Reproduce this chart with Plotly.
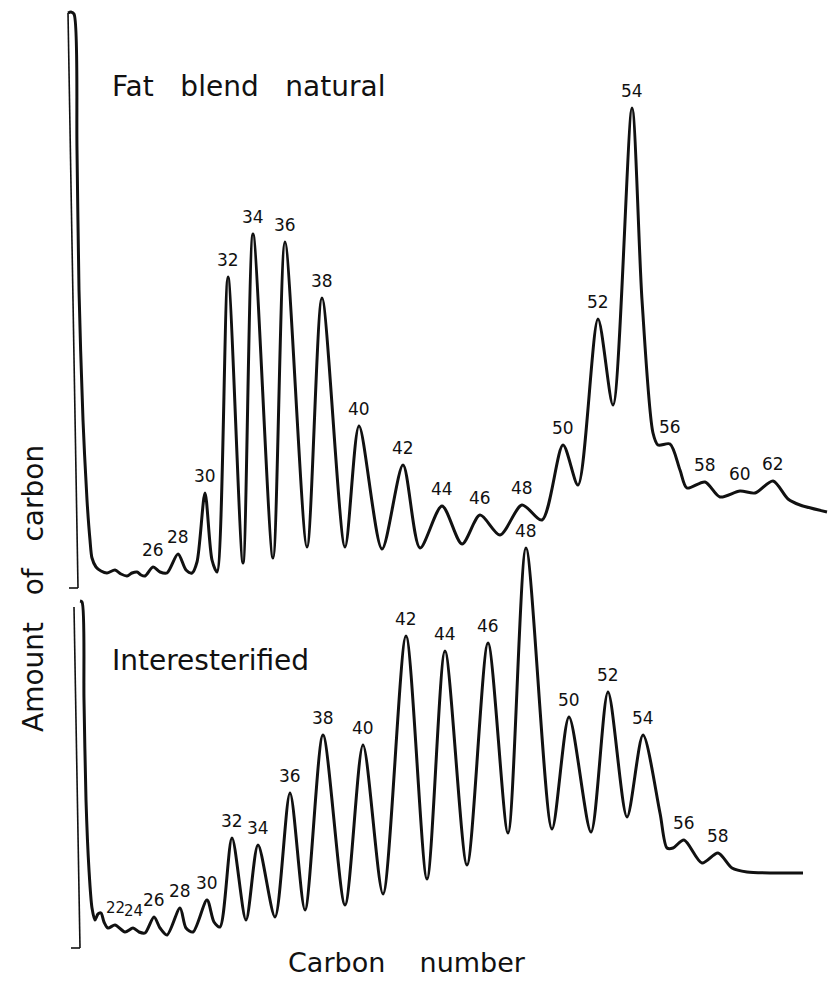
import plotly.graph_objects as go

# ---------------------------------------------------------------
# Triglyceride GC profiles by carbon number (detector response, a.u.)
# retention values share one axis; responses are measured from each
# trace's own baseline
# ---------------------------------------------------------------

# Fat blend, natural: labelled peaks
nat_carbon = [26, 28, 30, 32, 34, 36, 38, 40, 42, 44, 46, 48, 50, 52, 54, 56, 58, 60, 62]
nat_peak_ret = [153, 178, 205, 228, 253, 285, 322, 359, 403, 442, 480, 522, 563, 598, 632, 670, 705, 740, 773]
nat_peak_resp = [21, 34, 95, 311, 354, 346, 290, 162, 123, 82, 73, 83, 143, 269, 480, 144, 106, 97, 107]

# Fat blend, natural: solvent front, valleys and flanks
nat_ret = [68, 71, 74, 77, 79, 83, 87, 90, 92, 96, 101, 107, 115, 121, 127, 132, 137, 141, 145,
           160, 167, 186, 192, 197, 212, 217, 243, 273, 307, 345, 382, 420, 462, 500, 542,
           578, 613, 642, 653, 658, 680, 687, 720, 755, 788, 800, 827]
nat_resp = [575, 576, 574, 438, 298, 168, 88, 48, 30, 21, 17, 15, 18, 14, 12, 15, 16, 13, 12,
            16, 15, 18, 15, 26, 28, 16, 25, 30, 41, 41, 39, 40, 44, 53, 68,
            103, 183, 288, 155, 143, 118, 100, 91, 95, 89, 83, 76]

# Interesterified: labelled peaks
ie_carbon = [22, 24, 26, 28, 30, 32, 34, 36, 38, 40, 42, 44, 46, 48, 50, 52, 54, 56, 58]
ie_peak_ret = [115, 133, 154, 180, 207, 232, 258, 290, 323, 363, 406, 445, 488, 526, 569, 608, 643, 684, 718]
ie_peak_resp = [23, 20, 31, 40, 48, 110, 103, 155, 213, 203, 312, 297, 305, 400, 231, 256, 213, 108, 95]

# Interesterified: solvent front, valleys and flanks
ie_ret = [80, 82, 84, 86, 89, 92, 95, 98, 101, 104, 108, 125, 139, 145, 160, 167, 186, 193,
          214, 220, 246, 275, 305, 345, 383, 427, 467, 508, 552, 591, 627, 660, 667, 673,
          702, 732, 747, 775, 803]
ie_resp = [347, 346, 248, 148, 78, 40, 28, 34, 35, 26, 20, 16, 16, 15, 20, 13, 20, 16,
           26, 21, 28, 31, 38, 43, 54, 69, 83, 115, 119, 116, 131, 135, 100, 100,
           85, 80, 76, 75, 75]


def profile(ret, resp, pk_ret, pk_resp):
    pts = sorted(list(zip(ret, resp)) + list(zip(pk_ret, pk_resp)))
    return [p[0] for p in pts], [p[1] for p in pts]


INK = "#111111"
FONT = "DejaVu Sans"

fig = go.Figure()

nx, ny = profile(nat_ret, nat_resp, nat_peak_ret, nat_peak_resp)
fig.add_trace(go.Scatter(x=nx, y=ny, yaxis="y2", mode="lines",
                         line=dict(color=INK, width=3, shape="spline", smoothing=0.8),
                         hoverinfo="skip", showlegend=False))

ix, iy = profile(ie_ret, ie_resp, ie_peak_ret, ie_peak_resp)
fig.add_trace(go.Scatter(x=ix, y=iy, yaxis="y", mode="lines",
                         line=dict(color=INK, width=3, shape="spline", smoothing=0.8),
                         hoverinfo="skip", showlegend=False))

# carbon-number labels above each peak
for c, r, h in zip(nat_carbon, nat_peak_ret, nat_peak_resp):
    fig.add_annotation(x=r, y=h, xref="x", yref="y2", text=str(c), showarrow=False,
                       yshift=17, font=dict(family=FONT, size=17, color=INK))
for c, r, h in zip(ie_carbon, ie_peak_ret, ie_peak_resp):
    small = c in (22, 24)
    fig.add_annotation(x=r, y=h, xref="x", yref="y", text=str(c), showarrow=False,
                       yshift=17, font=dict(family=FONT, size=15 if small else 17, color=INK))

# baseline brackets for both traces
fig.add_shape(type="line", xref="x", yref="y2", x0=68, y0=575, x1=78, y1=0,
              line=dict(color=INK, width=1.6))
fig.add_shape(type="line", xref="x", yref="y2", x0=78, y0=0, x1=69, y1=0,
              line=dict(color=INK, width=1.6))
fig.add_shape(type="line", xref="x", yref="y", x0=74, y0=341, x1=80, y1=0,
              line=dict(color=INK, width=1.6))
fig.add_shape(type="line", xref="x", yref="y", x0=80, y0=0, x1=71, y1=0,
              line=dict(color=INK, width=1.6))

W, H = 831, 984
sp = "\u00a0"


def px(x, y):
    return x / W, 1 - y / H


ax, ay = px(110, 87)
fig.add_annotation(x=ax, y=ay, xref="paper", yref="paper", xanchor="left", yanchor="middle",
                   text=f"Fat{sp*3}blend{sp*3}natural", showarrow=False,
                   font=dict(family=FONT, size=28, color=INK))
ax, ay = px(110, 660)
fig.add_annotation(x=ax, y=ay, xref="paper", yref="paper", xanchor="left", yanchor="middle",
                   text="Interesterified", showarrow=False,
                   font=dict(family=FONT, size=28, color=INK))
ax, ay = px(33, 589)
fig.add_annotation(x=ax, y=ay, xref="paper", yref="paper", xanchor="center", yanchor="middle",
                   text=f"Amount{sp*3}of{sp*3}carbon", textangle=-90, showarrow=False,
                   font=dict(family=FONT, size=28, color=INK))
ax, ay = px(407, 962)
fig.add_annotation(x=ax, y=ay, xref="paper", yref="paper", xanchor="center", yanchor="middle",
                   text=f"Carbon{sp*4}number", showarrow=False,
                   font=dict(family=FONT, size=27, color=INK))

fig.update_layout(
    width=W, height=H,
    margin=dict(l=0, r=0, t=0, b=0),
    paper_bgcolor="white", plot_bgcolor="white",
    xaxis=dict(range=[0, W], visible=False, fixedrange=True),
    yaxis=dict(range=[-36, 948], visible=False, fixedrange=True),
    yaxis2=dict(range=[-396, 588], visible=False, fixedrange=True, overlaying="y"),
)

fig.write_html("out.html")
